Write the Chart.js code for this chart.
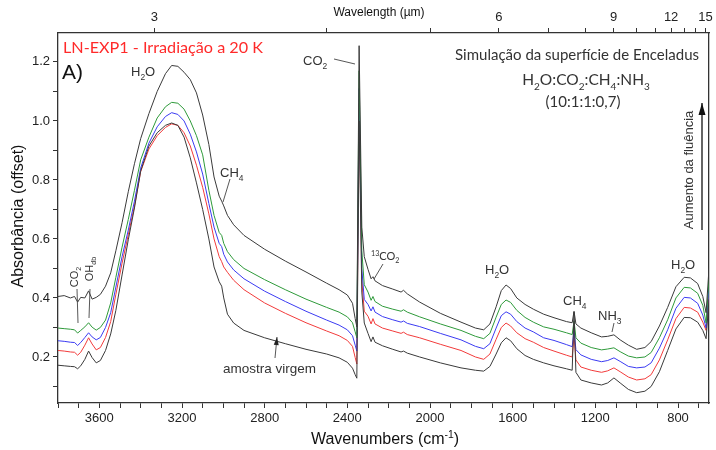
<!DOCTYPE html>
<html>
<head>
<meta charset="utf-8">
<script src="https://cdn.jsdelivr.net/npm/chart.js@4.4.1/dist/chart.umd.min.js"></script>
<style>
    html, body { margin: 0; padding: 0; background: #fff; }
    #wrap { width: 716px; height: 450px; }
</style>
</head>
<body>
<div id="wrap"><canvas id="chartIR" width="716" height="450"></canvas></div>
<script>
// numeros de onda (cm-1), comuns a todos os espectros
const numerosOnda = [3800, 3770, 3740, 3720, 3705, 3690, 3670, 3652, 3635, 3615,
    3595, 3570, 3545, 3520, 3490, 3460, 3430, 3400, 3360, 3320,
    3280, 3250, 3220, 3190, 3160, 3130, 3100, 3070, 3045, 3020,
    3008, 2998, 2980, 2950, 2900, 2800, 2700, 2600, 2500, 2440,
    2400, 2375, 2362, 2354, 2343, 2330, 2318, 2300, 2285, 2276,
    2266, 2230, 2180, 2140, 2128, 2110, 2050, 1950, 1850, 1780,
    1740, 1710, 1680, 1655, 1632, 1610, 1580, 1540, 1500, 1450,
    1400, 1340, 1312, 1303, 1294, 1270, 1220, 1170, 1140, 1110,
    1080, 1040, 1000, 960, 930, 890, 850, 810, 770, 740,
    705, 680, 664, 650];

// amostra virgem (preto, inferior)
const amostraVirgem = [0.172, 0.170, 0.168, 0.167, 0.160, 0.170, 0.192, 0.220, 0.198, 0.180,
    0.188, 0.222, 0.278, 0.358, 0.478, 0.597, 0.705, 0.830, 0.915, 0.960,
    0.985, 0.993, 0.985, 0.945, 0.875, 0.790, 0.700, 0.600, 0.505, 0.455,
    0.440, 0.400, 0.345, 0.315, 0.290, 0.265, 0.245, 0.226, 0.210, 0.197,
    0.182, 0.162, 0.140, 0.128, 1.000, 0.420, 0.315, 0.280, 0.252, 0.268,
    0.250, 0.238, 0.226, 0.217, 0.220, 0.213, 0.200, 0.180, 0.163, 0.155,
    0.152, 0.168, 0.210, 0.248, 0.265, 0.255, 0.228, 0.205, 0.192, 0.180,
    0.170, 0.160, 0.155, 0.352, 0.148, 0.122, 0.112, 0.105, 0.112, 0.129,
    0.112, 0.090, 0.079, 0.084, 0.100, 0.150, 0.222, 0.295, 0.334, 0.333,
    0.318, 0.290, 0.262, 0.395];

// fluencia 1 (vermelho)
const fluencia1 = [0.222, 0.220, 0.217, 0.216, 0.206, 0.216, 0.240, 0.265, 0.244, 0.224,
    0.232, 0.266, 0.320, 0.412, 0.518, 0.614, 0.712, 0.828, 0.905, 0.950,
    0.978, 0.990, 0.985, 0.960, 0.915, 0.850, 0.775, 0.685, 0.600, 0.540,
    0.523, 0.505, 0.487, 0.460, 0.428, 0.383, 0.348, 0.316, 0.288, 0.272,
    0.256, 0.236, 0.198, 0.176, 1.060, 0.460, 0.355, 0.338, 0.312, 0.330,
    0.312, 0.298, 0.288, 0.280, 0.284, 0.276, 0.265, 0.243, 0.222, 0.200,
    0.192, 0.210, 0.260, 0.300, 0.315, 0.305, 0.282, 0.262, 0.250, 0.232,
    0.220, 0.206, 0.200, 0.272, 0.190, 0.166, 0.155, 0.148, 0.153, 0.163,
    0.150, 0.132, 0.122, 0.126, 0.140, 0.190, 0.258, 0.330, 0.368, 0.366,
    0.352, 0.318, 0.290, 0.415];

// fluencia 2 (azul)
const fluencia2 = [0.255, 0.253, 0.250, 0.249, 0.239, 0.249, 0.266, 0.282, 0.268, 0.258,
    0.266, 0.300, 0.350, 0.437, 0.540, 0.630, 0.728, 0.840, 0.925, 0.980,
    1.015, 1.028, 1.022, 1.000, 0.955, 0.895, 0.820, 0.720, 0.640, 0.585,
    0.574, 0.548, 0.522, 0.495, 0.465, 0.423, 0.388, 0.355, 0.325, 0.308,
    0.292, 0.272, 0.240, 0.220, 1.110, 0.500, 0.395, 0.378, 0.356, 0.370,
    0.352, 0.337, 0.326, 0.318, 0.322, 0.314, 0.303, 0.280, 0.258, 0.236,
    0.228, 0.245, 0.298, 0.340, 0.353, 0.345, 0.320, 0.298, 0.285, 0.265,
    0.256, 0.242, 0.235, 0.290, 0.225, 0.207, 0.192, 0.184, 0.188, 0.197,
    0.185, 0.168, 0.163, 0.166, 0.180, 0.230, 0.292, 0.365, 0.402, 0.400,
    0.382, 0.342, 0.298, 0.435];

// fluencia 3 (verde)
const fluencia3 = [0.298, 0.296, 0.294, 0.292, 0.281, 0.290, 0.302, 0.316, 0.301, 0.291,
    0.300, 0.325, 0.383, 0.470, 0.572, 0.666, 0.765, 0.868, 0.945, 1.010,
    1.048, 1.063, 1.060, 1.040, 1.000, 0.950, 0.885, 0.765, 0.680, 0.622,
    0.612, 0.585, 0.557, 0.530, 0.500, 0.462, 0.428, 0.396, 0.368, 0.352,
    0.336, 0.316, 0.285, 0.265, 1.170, 0.560, 0.445, 0.420, 0.392, 0.405,
    0.388, 0.372, 0.362, 0.355, 0.360, 0.352, 0.336, 0.312, 0.290, 0.270,
    0.262, 0.280, 0.335, 0.378, 0.393, 0.385, 0.358, 0.334, 0.318, 0.302,
    0.294, 0.282, 0.276, 0.322, 0.265, 0.247, 0.232, 0.224, 0.227, 0.231,
    0.218, 0.203, 0.197, 0.200, 0.215, 0.265, 0.326, 0.400, 0.436, 0.434,
    0.416, 0.375, 0.315, 0.465];

// fluencia 4 (preto, superior)
const fluencia4 = [0.405, 0.408, 0.400, 0.405, 0.386, 0.402, 0.400, 0.424, 0.396, 0.402,
    0.412, 0.440, 0.485, 0.560, 0.655, 0.760, 0.855, 0.940, 1.025, 1.100,
    1.160, 1.188, 1.185, 1.165, 1.140, 1.095, 1.020, 0.920, 0.810, 0.745,
    0.728, 0.712, 0.680, 0.648, 0.612, 0.565, 0.525, 0.488, 0.450, 0.428,
    0.410, 0.382, 0.330, 0.302, 1.255, 0.640, 0.540, 0.497, 0.465, 0.472,
    0.458, 0.442, 0.430, 0.420, 0.426, 0.414, 0.386, 0.348, 0.318, 0.298,
    0.292, 0.312, 0.370, 0.425, 0.444, 0.432, 0.400, 0.378, 0.362, 0.345,
    0.333, 0.320, 0.316, 0.355, 0.312, 0.298, 0.282, 0.268, 0.270, 0.275,
    0.258, 0.240, 0.226, 0.232, 0.252, 0.305, 0.368, 0.438, 0.470, 0.468,
    0.449, 0.405, 0.350, 0.500];

// eixos
const rotulosOnda = [3600, 3200, 2800, 2400, 2000, 1600, 1200, 800];
const ticksComprimento = [3, 4, 5, 6, 7, 8, 9, 10, 11, 12, 13, 14, 15];
const rotulosComprimento = [3, 6, 9, 12, 15];
const ticksAbs = [0.1, 0.2, 0.3, 0.4, 0.5, 0.6, 0.7, 0.8, 0.9, 1.0, 1.1, 1.2];
const rotulosAbs = [0.2, 0.4, 0.6, 0.8, 1.0, 1.2];

const corEixo = '#333333';
const fonteEixo = 'Liberation Sans, Arial, sans-serif';
const fonteTexto = 'Lato, "Open Sans", sans-serif';

function serie(valores) {
    return numerosOnda.map(function (x, i) { return { x: x, y: valores[i] }; });
}

// escreve texto com sub/sobrescritos: segs = [[texto, modo]]
function escreve(ctx, segs, x, y, tam, familia, alinha) {
    let total = 0;
    const larg = segs.map(function (s) {
        ctx.font = (s[1] ? tam * 0.65 : tam) + 'px ' + familia;
        const w = ctx.measureText(s[0]).width;
        total += w;
        return w;
    });
    let cx = alinha === 'center' ? x - total / 2 : (alinha === 'right' ? x - total : x);
    segs.forEach(function (s, i) {
        ctx.font = (s[1] ? tam * 0.65 : tam) + 'px ' + familia;
        const dy = s[1] === 'sub' ? tam * 0.3 : (s[1] === 'sup' ? -tam * 0.4 : 0);
        ctx.fillText(s[0], cx, y + dy);
        cx += larg[i];
    });
}

function linha(ctx, x1, y1, x2, y2) {
    ctx.beginPath();
    ctx.moveTo(x1, y1);
    ctx.lineTo(x2, y2);
    ctx.stroke();
}

function seta(ctx, x1, y1, x2, y2, tam, larg) {
    linha(ctx, x1, y1, x2, y2);
    const a = Math.atan2(y2 - y1, x2 - x1);
    ctx.beginPath();
    ctx.moveTo(x2, y2);
    ctx.lineTo(x2 - tam * Math.cos(a) + larg * Math.sin(a), y2 - tam * Math.sin(a) - larg * Math.cos(a));
    ctx.lineTo(x2 - tam * Math.cos(a) - larg * Math.sin(a), y2 - tam * Math.sin(a) + larg * Math.cos(a));
    ctx.closePath();
    ctx.fill();
}

const anotacoes = {
    id: 'anotacoes',
    afterDraw: function (chart) {
        const ctx = chart.ctx;
        ctx.save();
        ctx.textAlign = 'left';
        ctx.textBaseline = 'alphabetic';

        // titulos dos eixos
        ctx.fillStyle = '#111';
        escreve(ctx, [['Wavenumbers (cm', ''], ['-1', 'sup'], [')', '']], 385, 444, 16, fonteEixo, 'center');
        escreve(ctx, [['Wavelength (\u00b5m)', '']], 379, 16, 12, fonteEixo, 'center');
        ctx.save();
        ctx.translate(23, 216);
        ctx.rotate(-Math.PI / 2);
        escreve(ctx, [['Absorb\u00e2ncia (offset)', '']], 0, 0, 16, fonteEixo, 'center');
        ctx.restore();

        // cabecalho
        ctx.fillStyle = '#ff2a2a';
        escreve(ctx, [['LN-EXP1 - Irradia\u00e7\u00e3o a 20 K', '']], 63, 53, 16.2, fonteTexto, 'left');
        ctx.fillStyle = '#111';
        escreve(ctx, [['A)', '']], 62, 79, 21, fonteEixo, 'left');

        ctx.fillStyle = '#333';
        escreve(ctx, [['Simula\u00e7\u00e3o da superf\u00edcie de Enceladus', '']], 699, 60, 15, fonteTexto, 'right');
        escreve(ctx, [['H', ''], ['2', 'sub'], ['O:CO', ''], ['2', 'sub'], [':CH', ''], ['4', 'sub'], [':NH', ''], ['3', 'sub']], 586, 85, 15.5, fonteTexto, 'center');
        escreve(ctx, [['(10:1:1:0,7)', '']], 583, 107, 15, fonteTexto, 'center');

        // aumento da fluencia
        ctx.save();
        ctx.translate(693, 170);
        ctx.rotate(-Math.PI / 2);
        escreve(ctx, [['Aumento da flu\u00eancia', '']], 0, 0, 13, fonteEixo, 'center');
        ctx.restore();
        ctx.strokeStyle = '#111';
        ctx.fillStyle = '#111';
        ctx.lineWidth = 1.3;
        seta(ctx, 702, 230, 702, 103, 12, 3.5);

        // rotulos das bandas
        ctx.fillStyle = '#333';
        ctx.strokeStyle = '#444';
        ctx.lineWidth = 0.9;
        const quim = 13;
        escreve(ctx, [['H', ''], ['2', 'sub'], ['O', '']], 131, 76, quim, fonteEixo, 'left');
        escreve(ctx, [['CH', ''], ['4', 'sub']], 220, 177, quim, fonteEixo, 'left');
        linha(ctx, 230, 179, 223, 202);
        escreve(ctx, [['CO', ''], ['2', 'sub']], 303, 65, quim, fonteEixo, 'left');
        linha(ctx, 334, 59, 355, 64);
        escreve(ctx, [['13', 'sup'], ['CO', ''], ['2', 'sub']], 371, 260, 11, fonteTexto, 'left');
        linha(ctx, 383, 264, 374, 279);
        escreve(ctx, [['H', ''], ['2', 'sub'], ['O', '']], 485, 274, quim, fonteEixo, 'left');
        escreve(ctx, [['CH', ''], ['4', 'sub']], 563, 305, quim, fonteEixo, 'left');
        escreve(ctx, [['NH', ''], ['3', 'sub']], 598, 320, quim, fonteEixo, 'left');
        linha(ctx, 614, 323, 612, 332);
        escreve(ctx, [['H', ''], ['2', 'sub'], ['O', '']], 671, 269, quim, fonteEixo, 'left');

        // CO2 e OH (vertical)
        ctx.save();
        ctx.translate(78, 277);
        ctx.rotate(-Math.PI / 2);
        escreve(ctx, [['CO', ''], ['2', 'sub']], 0, 0, 11, fonteEixo, 'center');
        ctx.restore();
        ctx.save();
        ctx.translate(93, 269);
        ctx.rotate(-Math.PI / 2);
        escreve(ctx, [['OH', ''], ['db', 'sub']], 0, 0, 11, fonteEixo, 'center');
        ctx.restore();
        linha(ctx, 77, 289, 78, 323);
        linha(ctx, 90, 289, 89, 318);

        // amostra virgem
        escreve(ctx, [['amostra virgem', '']], 223, 373, 13.5, fonteEixo, 'left');
        ctx.fillStyle = '#222';
        seta(ctx, 275, 358, 277, 337, 8, 2.5);

        ctx.restore();
    }
};

function eixoBase() {
    return {
        grid: { drawOnChartArea: false, drawTicks: true, tickLength: 5, color: corEixo, lineWidth: 1 },
        border: { display: true, color: corEixo, width: 1.3 },
        ticks: { color: '#222', font: { family: fonteEixo, size: 13 }, autoSkip: false, maxRotation: 0 }
    };
}

const eixoX = eixoBase();
eixoX.type = 'linear';
eixoX.position = 'bottom';
eixoX.min = 650;
eixoX.max = 3800;
eixoX.reverse = true;
eixoX.ticks.padding = 3;
eixoX.ticks.callback = function (v) { return rotulosOnda.indexOf(v) >= 0 ? String(v) : ''; };
eixoX.afterBuildTicks = function (s) {
    const t = [];
    for (let v = 3800; v >= 700; v -= 100) t.push({ value: v });
    s.ticks = t;
};
eixoX.afterFit = function (s) { s.height = 47; };

const eixoX2 = eixoBase();
eixoX2.type = 'linear';
eixoX2.position = 'top';
eixoX2.min = 650;
eixoX2.max = 3800;
eixoX2.reverse = true;
eixoX2.ticks.padding = 3;
eixoX2.ticks.callback = function (v) {
    const l = Math.round(10000 / v);
    return rotulosComprimento.indexOf(l) >= 0 ? String(l) : '';
};
eixoX2.afterBuildTicks = function (s) {
    s.ticks = ticksComprimento.map(function (l) { return { value: 10000 / l }; });
};
eixoX2.afterFit = function (s) { s.height = 33; };

const eixoY = eixoBase();
eixoY.min = 0.044;
eixoY.max = 1.298;
eixoY.ticks.padding = 3;
eixoY.ticks.callback = function (v) { return rotulosAbs.indexOf(v) >= 0 ? v.toFixed(1) : ''; };
eixoY.afterBuildTicks = function (s) {
    s.ticks = ticksAbs.map(function (v) { return { value: v }; });
};
eixoY.afterFit = function (s) { s.width = 58; };

const eixoY2 = {
    position: 'right',
    min: 0,
    max: 1,
    grid: { drawOnChartArea: false, drawTicks: false },
    border: { display: true, color: corEixo, width: 1.3 },
    ticks: { display: false },
    afterFit: function (s) { s.width = 7; }
};

function conjunto(rotulo, valores, cor) {
    return {
        label: rotulo,
        data: serie(valores),
        borderColor: cor,
        borderWidth: 1,
        pointRadius: 0,
        tension: 0,
        fill: false,
        xAxisID: 'x',
        yAxisID: 'y'
    };
}

new Chart(document.getElementById('chartIR').getContext('2d'), {
    type: 'line',
    data: {
        datasets: [
            conjunto('Amostra virgem', amostraVirgem, '#3a3a3a'),
            conjunto('Fluencia 4', fluencia4, '#3a3a3a'),
            conjunto('Fluencia 3', fluencia3, '#2e9a3a'),
            conjunto('Fluencia 2', fluencia2, '#3b3bf2'),
            conjunto('Fluencia 1', fluencia1, '#f23b3b')
        ]
    },
    options: {
        responsive: false,
        animation: false,
        devicePixelRatio: 1,
        layout: { padding: 0 },
        plugins: {
            legend: { display: false },
            tooltip: { enabled: false }
        },
        scales: {
            x: eixoX,
            x2: eixoX2,
            y: eixoY,
            y2: eixoY2
        }
    },
    plugins: [anotacoes]
});
</script>
</body>
</html>
